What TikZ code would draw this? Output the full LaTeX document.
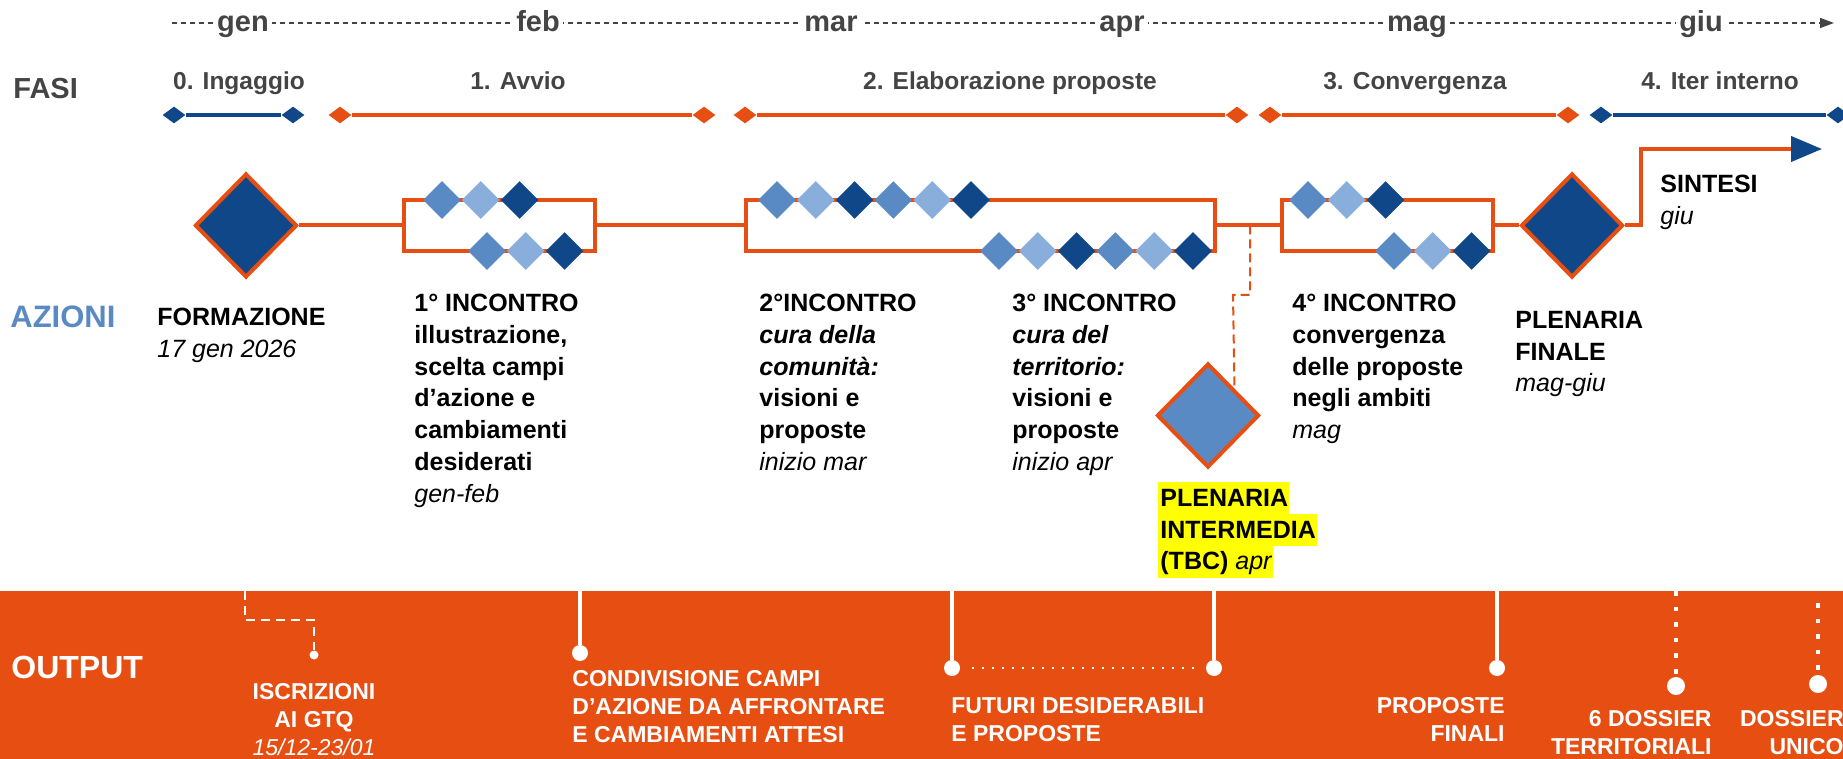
\documentclass[tikz,border=0pt]{standalone}
\usepackage{fontspec}
\setmainfont{Liberation Sans}
\usetikzlibrary{shapes.geometric,arrows.meta}
\definecolor{arancio}{HTML}{E64E12}
\definecolor{bluscuro}{HTML}{0F4789}
\definecolor{blumedio}{HTML}{5A8AC3}
\definecolor{bluchiaro}{HTML}{89AEDC}
\definecolor{grigio}{HTML}{444444}
\definecolor{evidenzia}{HTML}{FFFF00}
\newcommand{\evid}[1]{{\setlength{\fboxsep}{0pt}\colorbox{evidenzia}{\rule[-3.85pt]{0pt}{15.85pt}\hspace{1pt}#1\hspace{0.5pt}}}}

\begin{document}
\begin{tikzpicture}[x=0.5pt, y=-0.5pt,
	mese/.style={font=\fontsize{14.5}{17}\selectfont\bfseries, text=grigio, fill=white, inner xsep=1.5pt, inner ysep=1pt, anchor=base},
	fase/.style={font=\fontsize{12.25}{15}\selectfont\bfseries, text=grigio, anchor=base},
	tappa/.style={diamond, fill=#1, inner sep=0pt, minimum width=11.5pt, minimum height=8.5pt},
	barra/.style={draw=#1, line width=1.8pt},
	evento/.style={diamond, fill=#1, draw=arancio, line width=2pt, inner sep=0pt, minimum width=51pt, minimum height=52pt},
	gruppo/.style={rectangle, draw=arancio, line width=2pt, inner sep=0pt, minimum height=25.5pt},
	rombo/.style={diamond, fill=#1, inner sep=0pt, minimum size=19pt},
	flusso/.style={draw=arancio, line width=2pt},
	tratteggio/.style={draw=arancio, line width=1pt, dash pattern=on 4.5pt off 2.5pt},
	azione/.style={font=\fontsize{12.5}{15.85}\selectfont\bfseries, align=left, anchor=north west, inner sep=0pt},
	punto/.style={circle, fill=white, inner sep=0pt, minimum size=#1},
	filo/.style={draw=white, line width=2pt},
	puntini/.style={draw=white, line width=1pt, dash pattern=on 0.8pt off 4.2pt, shorten <=6pt, shorten >=6pt},
	quadretti/.style={draw=white, line width=2.3pt, dash pattern=on 2.3pt off 5.5pt},
	uscita/.style={font=\fontsize{11.5}{14.1}\selectfont\bfseries, text=white, inner sep=0pt},
]
\useasboundingbox (0,0) rectangle (1843,759);

\coordinate (inizio) at (172,23);
\coordinate (fine) at (1834,23);
\draw[grigio, line width=0.75pt, dash pattern=on 2.5pt off 2pt, -{Triangle[length=7pt, width=5pt]}] (inizio) -- (fine);
\foreach \m/\x in {gen/243, feb/538, mar/831, apr/1122, mag/1417, giu/1701}
	\node[mese] (\m) at (\x,32) {\m};

\node[anchor=north west, inner sep=0pt, font=\fontsize{14.5}{17}\selectfont\bfseries, text=grigio] (fasi) at (13,78) {FASI};
\node[fase] (fase0) at (239,90) {0. Ingaggio};
\node[fase] (fase1) at (518,90) {1. Avvio};
\node[fase] (fase2) at (1010,90) {2. Elaborazione proposte};
\node[fase] (fase3) at (1415,90) {3. Convergenza};
\node[fase] (fase4) at (1720,90) {4. Iter interno};
\foreach \n/\a/\b/\c in {0/174/293/bluscuro, 1/340/704/arancio, 2/745/1237/arancio, 3/1270/1568/arancio, 4/1601/1838/bluscuro} {
	\node[tappa=\c] (inizio\n) at (\a,115) {};
	\node[tappa=\c] (fine\n) at (\b,115) {};
	\draw[barra=\c] (inizio\n) -- (fine\n);
}

\node[anchor=north west, inner sep=0pt, font=\fontsize{15.5}{18}\selectfont\bfseries, text=blumedio] (azioni) at (10,305) {AZIONI};

\node[evento=bluscuro] (form) at (246,225.5) {};
\node[gruppo, minimum width=95.5pt] (g1) at (499.5,225.5) {};
\node[gruppo, minimum width=234.5pt] (g2) at (980.5,225.5) {};
\node[gruppo, minimum width=105.5pt] (g3) at (1387.5,225.5) {};
\node[evento=bluscuro] (fin) at (1572,225.5) {};
\node[evento=blumedio] (inter) at (1208,415.5) {};
\foreach \r/\x/\y/\p in {a/442/200/0, b/487/251/0, c/777/200/1, d/999/251/1, e/1308/200/0, f/1394/251/0}
	\foreach \q in {0,...,\p}
		\foreach \k/\c in {0/blumedio, 1/bluchiaro, 2/bluscuro}
			\node[rombo=\c] (\r\q\k) at ({\x+38.8*(3*\q+\k)},\y) {};

\draw[flusso] (form) -- (g1);
\draw[flusso] (g1) -- (g2);
\draw[flusso] (g2) -- (g3);
\draw[flusso] (g3) -- (fin);
\coordinate (svolta) at (1641,149);
\coordinate (punta) at (1822,149);
\draw[flusso, -{Triangle[length=15.5pt, width=12.5pt, color=bluscuro]}] (fin) -| (svolta) -- (punta);
\coordinate (ramo) at (1250,225.5);
\draw[tratteggio] (ramo) |- ++(-17,69.5) -- (inter.north east);

\node[azione] (tform) at (157,308) {FORMAZIONE\\\textit{\mdseries 17 gen 2026}};
\node[azione] (t1) at (414,294) {1° INCONTRO\\illustrazione,\\scelta campi\\d’azione e\\cambiamenti\\desiderati\\\textit{\mdseries gen-feb}};
\node[azione] (t2) at (759,294) {2°INCONTRO\\\textit{cura della}\\\textit{comunità:}\\visioni e\\proposte\\\textit{\mdseries inizio mar}};
\node[azione] (t3) at (1012,294) {3° INCONTRO\\\textit{cura del}\\\textit{territorio:}\\visioni e\\proposte\\\textit{\mdseries inizio apr}};
\node[azione] (tinter) at (1158,482) {\evid{PLENARIA}\\\evid{INTERMEDIA}\\\evid{(TBC) \textit{\mdseries apr}}};
\node[azione] (t4) at (1292,294) {4° INCONTRO\\convergenza\\delle proposte\\negli ambiti\\\textit{\mdseries mag}};
\node[azione] (tfin) at (1515,311) {PLENARIA\\FINALE\\\textit{\mdseries mag-giu}};
\node[azione] (tsint) at (1660,175) {SINTESI\\\textit{\mdseries giu}};

\fill[arancio] (0,591) rectangle (1843,759);
\node[anchor=north west, inner sep=0pt, font=\fontsize{16}{19}\selectfont\bfseries, text=white] (output) at (11,656) {OUTPUT};

\node[punto=4.5pt] (p0) at (314,655) {};
\coordinate (c0) at (245,591);
\draw[white, line width=0.75pt, dash pattern=on 4.5pt off 3pt] (c0) -- ++(0,29) -| (p0);
\node[uscita, anchor=north, align=center] (o0) at (314,683) {ISCRIZIONI\\AI GTQ\\\textit{\mdseries 15/12-23/01}};

\node[punto=8pt] (p1) at (580,653) {};
\coordinate (c1) at (580,591);
\draw[filo] (c1) -- (p1);
\node[uscita, anchor=north west, align=left] (o1) at (572,670) {CONDIVISIONE CAMPI\\D’AZIONE DA AFFRONTARE\\E CAMBIAMENTI ATTESI};

\node[punto=8pt] (p2) at (952,668) {};
\coordinate (c2) at (952,591);
\draw[filo] (c2) -- (p2);
\node[punto=8pt] (p3) at (1214,668) {};
\coordinate (c3) at (1214,591);
\draw[filo] (c3) -- (p3);
\draw[puntini] (p2) -- (p3);
\node[uscita, anchor=north west, align=left] (o2) at (951,697) {FUTURI DESIDERABILI\\E PROPOSTE};

\node[punto=8pt] (p4) at (1497,668) {};
\coordinate (c4) at (1497,591);
\draw[filo] (c4) -- (p4);
\node[uscita, anchor=north east, align=right] (o4) at (1505,697) {PROPOSTE\\FINALI};

\node[punto=9pt] (p5) at (1676,686) {};
\coordinate (c5) at (1676,591);
\draw[quadretti] (c5) -- (p5);
\node[uscita, anchor=north east, align=right] (o5) at (1712,710) {6 DOSSIER\\TERRITORIALI};

\node[punto=9pt] (p6) at (1818,684) {};
\coordinate (c6) at (1818,603);
\draw[quadretti] (c6) -- (p6);
\node[uscita, anchor=north east, align=right] (o6) at (1844,710) {DOSSIER\\UNICO};
\end{tikzpicture}
\end{document}
